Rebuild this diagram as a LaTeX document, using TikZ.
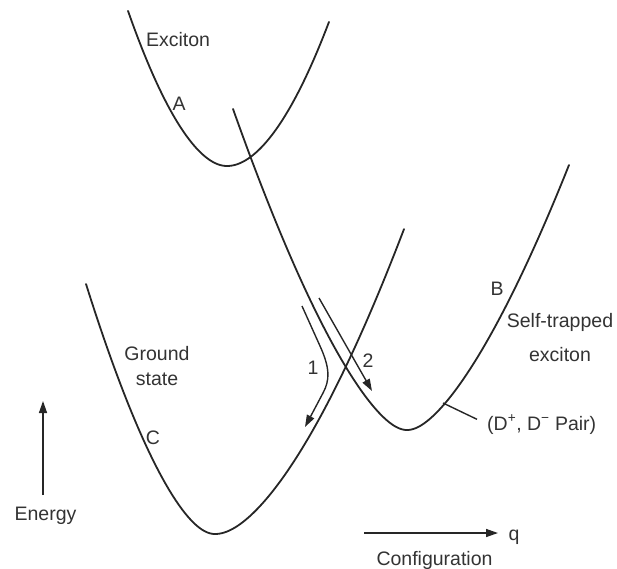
\documentclass[tikz,border=0pt]{standalone}
\usepackage{fontspec}
\setmainfont{Liberation Sans}
\usetikzlibrary{arrows.meta}
\begin{document}
\begin{tikzpicture}[x=1pt,y=-1pt,
  curve/.style={line width=1.8pt, color=black!85, line cap=round, line join=round},
  pointer/.style={line width=1.4pt, color=black!85, -{Triangle[length=12pt,width=8pt]}},
  thinline/.style={line width=1.4pt, color=black!85},
  lbl/.style={font=\fontsize{19.5}{24}\selectfont, text=black!80, inner sep=0pt, anchor=base},
]
\path[use as bounding box] (0,0) rectangle (617,568);

% Exciton curve
\draw[curve] plot[domain=128:227, samples=60] (\x,{166-2.5365*((((227-\x)/10)^2+2.25)^0.9-2.0749)})
  -- plot[domain=227:329, samples=60] (\x,{166-1.980*((((\x-227)/10)^2+2.25)^0.925-2.117)});

% Self-trapped exciton curve
\draw[curve] plot[domain=233:407, samples=80] (\x,{430-4.513*((((407-\x)/10)^2+2.25)^0.75-1.837)})
  -- plot[domain=407:569, samples=80] (\x,{430-4.155*((((\x-407)/10)^2+2.25)^0.75-1.837)});

% Ground state curve
\draw[curve] plot[domain=86:215, samples=60] (\x,{534-4.296*((((215-\x)/10)^2+3.24)^0.8-2.561)})
  -- plot[domain=215:404, samples=80] (\x,{534-2.811*((((\x-215)/10)^2+3.24)^0.8-2.561)});

% Process arrows
\coordinate (p1s) at (302,306);
\coordinate (p1e) at (305,427);
\draw[pointer] (p1s) -- (320,346) .. controls (330,368) and (330,380) .. (323,393) -- (p1e);
\coordinate (p2s) at (319,298);
\coordinate (p2e) at (372,391);
\draw[pointer] (p2s) -- (p2e);

% Labels
\node[lbl] (exc) at (178,46) {Exciton};
\node[lbl] (a) at (179,110) {A};
\node[lbl] (gr1) at (157,360) {Ground};
\node[lbl] (gr2) at (157,385) {state};
\node[lbl] (c) at (153,444) {C};
\node[lbl] (b) at (497,295) {B};
\node[lbl] (st1) at (560,327) {Self-trapped};
\node[lbl] (st2) at (560,361) {exciton};
\node[lbl, anchor=base west] (pair) at (487,430) {(D\textsuperscript{+}, D\textsuperscript{−} Pair)};
\node[lbl] (one) at (313,374) {1};
\node[lbl] (two) at (368,367) {2};
\node[lbl] (energy) at (45.5,520) {Energy};
\node[lbl] (config) at (434.5,565) {Configuration};
\node[lbl] (q) at (514,540) {q};

% leader line
\coordinate (dpt) at (443,403);
\draw[thinline] (dpt) -- ([shift={(-10,-5)}]pair.west);

% axes arrows
\coordinate (e0) at (43,495);
\coordinate (e1) at (43,401);
\draw[pointer] (e0) -- (e1);
\coordinate (c0) at (364,533);
\coordinate (c1) at (498,533);
\draw[pointer] (c0) -- (c1);
\end{tikzpicture}
\end{document}
